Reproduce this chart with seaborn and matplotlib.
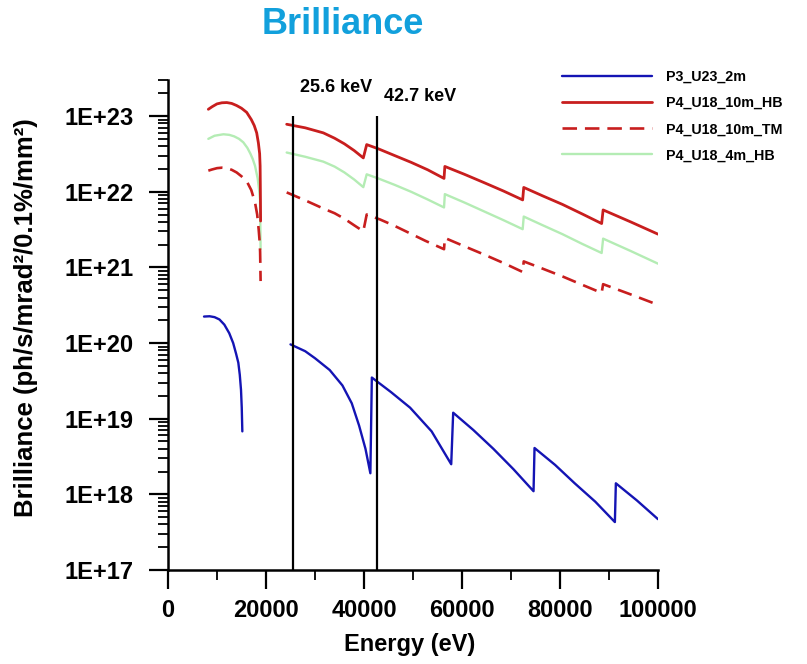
import numpy as np
import pandas as pd
import matplotlib
matplotlib.use("Agg")
import matplotlib.pyplot as plt
import seaborn as sns
from matplotlib.lines import Line2D
from matplotlib.ticker import MultipleLocator, LogLocator, FuncFormatter

nan = np.nan

series_names = ["P3_U23_2m", "P4_U18_10m_HB", "P4_U18_10m_TM", "P4_U18_4m_HB"]

# energy in eV, brilliance in ph/s/mrad2/0.1%/mm2 (nan = gap between segments)
p3_energy = [7350, 8500, 9500, 10500, 11500, 12500, 13300, 13900, 14350, 14650, 14900, 15050, 15170, nan,
             25000, 28000, 30000, 33000, 35600, 37500, 39000, 40300, 41300,
             41600, 45500, 49400, 53800, 57800,
             58200, 62300, 66400, 70500, 74600,
             74800, 79000, 83000, 87200, 91200,
             91400, 95700, 100000]
p3_brill = [2.24e20, 2.26e20, 2.2e20, 2.05e20, 1.75e20, 1.35e20, 1.0e20, 7.2e19, 5.5e19, 3.8e19, 2.4e19, 1.4e19, 6.8e18, nan,
            9.6e19, 7.8e19, 6.3e19, 4.4e19, 2.75e19, 1.6e19, 8.1e18, 4.0e18, 1.9e18,
            3.5e19, 2.25e19, 1.4e19, 6.8e18, 2.5e18,
            1.2e19, 7.1e18, 4.0e18, 2.15e18, 1.1e18,
            4.1e18, 2.45e18, 1.4e18, 8.0e17, 4.3e17,
            1.4e18, 8.3e17, 4.7e17]

hb10_energy = [8230, 9000, 10000, 11000, 12000, 13000, 14000, 15000, 16060, 17000, 17600, 18100,
               18450, 18700, 18800, 18850, 18900, nan,
               24220, 28000, 31700, 34000, 36000, 38000, 39860,
               40550, 42900, 46300, 49600, 53000, 56330,
               56500, 60500, 64500, 68500, 72380,
               72600, 76500, 80500, 84500, 88500,
               88800, 94400, 100000]
hb10_brill = [1.23e23, 1.33e23, 1.45e23, 1.5e23, 1.51e23, 1.47e23, 1.38e23, 1.27e23, 1.12e23, 9.0e22, 7.5e22, 6.0e22,
              4.4e22, 3.2e22, 2.2e22, 1.07e22, 4.1e21, nan,
              7.8e22, 7.0e22, 6.0e22, 5.1e22, 4.3e22, 3.5e22, 2.8e22,
              4.2e22, 3.7e22, 3.0e22, 2.45e22, 1.95e22, 1.5e22,
              2.16e22, 1.7e22, 1.32e22, 1.02e22, 7.8e21,
              1.14e22, 8.8e21, 6.8e21, 5.1e21, 3.8e21,
              5.75e21, 4.0e21, 2.75e21]

tm10_energy = [8230, 9000, 10000, 11000, 12000, 13000, 14000, 15000, 16060, 17000, 17760,
               18200, 18500, 18700, 18800, 18900, nan,
               24220, 28000, 31700, 34000, 36000, 38000, 39860,
               40550, 43270, 46000, 49000, 52500, 56330,
               56500, 60500, 64500, 68500, 72380,
               72600, 76500, 80500, 84500, 88500,
               88800, 94400, 100000]
tm10_brill = [1.9e22, 1.97e22, 2.05e22, 2.08e22, 2.05e22, 1.95e22, 1.8e22, 1.6e22, 1.38e22, 1.05e22, 7.2e21,
              5.0e21, 3.2e21, 2.2e21, 1.6e21, 6.6e20, nan,
              9.8e21, 7.7e21, 6.0e21, 5.2e21, 4.4e21, 3.6e21, 3.0e21,
              5.0e21, 4.3e21, 3.6e21, 2.9e21, 2.25e21, 1.74e21,
              2.45e21, 1.9e21, 1.48e21, 1.14e21, 8.7e20,
              1.2e21, 9.6e20, 7.6e20, 5.9e20, 4.6e20,
              6.0e20, 4.4e20, 3.2e20]

hb4_energy = [8230, 9500, 11300, 12500, 13500, 14500, 15370, 16200, 16800, 17300, 17760,
              18300, 18600, 18780, 18900, nan,
              24220, 28000, 31700, 34000, 36000, 38000, 39860,
              40550, 42900, 46300, 49600, 53000, 56330,
              56500, 60500, 64500, 68500, 72380,
              72600, 76500, 80500, 84500, 88500,
              88800, 94400, 100000]
hb4_brill = [5.0e22, 5.5e22, 5.75e22, 5.65e22, 5.4e22, 5.0e22, 4.5e22, 3.8e22, 3.2e22, 2.7e22, 2.2e22,
             1.5e22, 1.05e22, 7.9e21, 1.74e21, nan,
             3.3e22, 2.9e22, 2.5e22, 2.15e22, 1.8e22, 1.45e22, 1.15e22,
             1.7e22, 1.5e22, 1.23e22, 1.0e22, 7.9e21, 6.2e21,
             9.3e21, 7.2e21, 5.5e21, 4.2e21, 3.2e21,
             4.7e21, 3.6e21, 2.75e21, 2.05e21, 1.55e21,
             2.4e21, 1.65e21, 1.12e21]

edge_kev = [25.6, 42.7]


def to_frame(energy, brill, name):
    df = pd.DataFrame({"energy": energy, "brilliance": brill})
    df["segment"] = df["energy"].isna().cumsum()
    df = df.dropna().copy()
    df["series"] = name
    return df


frames = {
    "P3_U23_2m": to_frame(p3_energy, p3_brill, "P3_U23_2m"),
    "P4_U18_10m_HB": to_frame(hb10_energy, hb10_brill, "P4_U18_10m_HB"),
    "P4_U18_10m_TM": to_frame(tm10_energy, tm10_brill, "P4_U18_10m_TM"),
    "P4_U18_4m_HB": to_frame(hb4_energy, hb4_brill, "P4_U18_4m_HB"),
}

styles = {
    "P3_U23_2m": dict(color="#1414b4", linewidth=1.7, linestyle="-"),
    "P4_U18_10m_HB": dict(color="#c81e1e", linewidth=2.0, linestyle="-"),
    "P4_U18_10m_TM": dict(color="#c81e1e", linewidth=1.9, linestyle=(0, (5.5, 3))),
    "P4_U18_4m_HB": dict(color="#b4ecb4", linewidth=1.7, linestyle="-"),
}
draw_order = ["P4_U18_4m_HB", "P3_U23_2m", "P4_U18_10m_HB", "P4_U18_10m_TM"]

sns.set_style("ticks")
plt.rcParams["font.family"] = ["Liberation Sans", "DejaVu Sans"]
plt.rcParams["font.weight"] = "bold"
for key in ["text.color", "axes.labelcolor", "xtick.color", "ytick.color", "axes.edgecolor"]:
    plt.rcParams[key] = "black"

fig = plt.figure(figsize=(8.07, 6.64), dpi=100)
ax = fig.add_axes([168 / 807, 1 - 570 / 664, 490 / 807, 490 / 664])

for name in draw_order:
    st = styles[name]
    sns.lineplot(data=frames[name], x="energy", y="brilliance", units="segment",
                 estimator=None, sort=False, legend=False, ax=ax,
                 color=st["color"], linewidth=st["linewidth"], linestyle=st["linestyle"])

ax.set_yscale("log")
ax.set_xlim(0, 100000)
ax.set_ylim(1e17, 3e23)

# absorption edge markers
label_y = [2.4e23, 1.8e23]
for e, ly in zip(edge_kev, label_y):
    ax.vlines(e * 1000, 1e17, 1e23, color="black", linewidth=1.6)
    ax.text(e * 1000 + 1300, ly, f"{e} keV", fontsize=13, fontweight="bold",
            ha="left", va="center")

ax.xaxis.set_major_locator(MultipleLocator(20000))
ax.xaxis.set_minor_locator(MultipleLocator(10000))
ax.yaxis.set_major_locator(LogLocator(base=10, numticks=20))
ax.yaxis.set_minor_locator(LogLocator(base=10, subs=np.arange(2, 10), numticks=20))
ax.yaxis.set_major_formatter(FuncFormatter(lambda v, p: f"1E+{int(round(np.log10(v)))}"))
ax.xaxis.set_major_formatter(FuncFormatter(lambda v, p: f"{int(v)}"))

ax.tick_params(axis="both", which="major", length=14, width=1.6, labelsize=17, direction="out",
               color="black", labelcolor="black")
ax.tick_params(axis="both", which="minor", length=7, width=1.3, direction="out", color="black")
ax.tick_params(axis="y", which="major", pad=11)
ax.tick_params(axis="x", which="major", pad=7)
for lab in ax.get_xticklabels() + ax.get_yticklabels():
    lab.set_fontweight("bold")

for s in ["top", "right"]:
    ax.spines[s].set_visible(False)
for s in ["left", "bottom"]:
    ax.spines[s].set_linewidth(1.8)
    ax.spines[s].set_color("black")

ax.set_xlabel("")
ax.set_ylabel("")
fig.text(410 / 807, 1 - 645 / 664, "Energy (eV)", fontsize=17, fontweight="bold",
         ha="center", va="center")
fig.text(26 / 807, 1 - 318 / 664, "Brilliance (ph/s/mrad²/0.1%/mm²)", fontsize=18.5,
         fontweight="bold", rotation=90, ha="center", va="center")
fig.text(343 / 807, 1 - 25 / 664, "Brilliance", fontsize=26, fontweight="bold",
         color="#12a0dc", ha="center", va="center")

handles = [Line2D([], [], **styles[n]) for n in series_names]
fig.legend(handles, series_names, loc="upper left", bbox_to_anchor=(562 / 807, 1 - 70 / 664),
           frameon=False, borderpad=0, borderaxespad=0, handlelength=6.3, handletextpad=1.0,
           labelspacing=0.85, prop={"size": 10.3, "weight": "bold"})

fig.savefig("out.png", dpi=100)
